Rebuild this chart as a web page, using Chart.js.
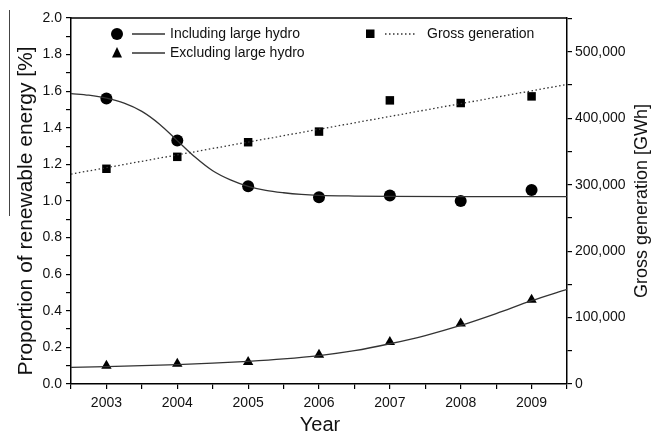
<!DOCTYPE html>
<html>
<head>
<meta charset="utf-8">
<script src="https://cdn.jsdelivr.net/npm/chart.js@4.4.1/dist/chart.umd.min.js"></script>
<style>
  body { margin: 0; background: #fff; }
  canvas { display: block; }
</style>
</head>
<body>
<canvas id="chart" width="652" height="433"></canvas>
<script>
// measured points
const years = [2003, 2004, 2005, 2006, 2007, 2008, 2009];
const includingHydro = [1.56, 1.33, 1.08, 1.02, 1.03, 1.00, 1.06];
const excludingHydro = [0.10, 0.11, 0.12, 0.16, 0.23, 0.33, 0.46];
const grossGeneration = [324000, 342000, 364000, 380000, 427000, 423000, 433000];

// fitted curves
const incFitYears = [2002.5, 2002.75, 2003, 2003.25, 2003.5, 2003.75, 2004, 2004.25, 2004.5, 2004.75, 2005, 2005.25, 2005.5, 2005.75, 2006, 2006.5, 2007, 2008, 2009.5];
const includingFit = [1.587, 1.578, 1.562, 1.535, 1.49, 1.42, 1.33, 1.24, 1.165, 1.115, 1.08, 1.058, 1.045, 1.036, 1.031, 1.027, 1.025, 1.024, 1.024];
const excFitYears = [2002.5, 2003, 2003.5, 2004, 2004.5, 2005, 2005.5, 2006, 2006.5, 2007, 2007.5, 2008, 2008.5, 2009, 2009.5];
const excludingFit = [0.091, 0.095, 0.100, 0.106, 0.114, 0.124, 0.137, 0.155, 0.182, 0.220, 0.265, 0.320, 0.385, 0.455, 0.517];
const grossFitYears = [2002.5, 2009.5];
const grossFit = [316000, 451000];

const xTicks = [2003, 2004, 2005, 2006, 2007, 2008, 2009];
const yTicks = [0.0, 0.2, 0.4, 0.6, 0.8, 1.0, 1.2, 1.4, 1.6, 1.8, 2.0];
const y2Ticks = [0, 100000, 200000, 300000, 400000, 500000];

const FONT = "'Liberation Sans', Arial, sans-serif";
const INK = '#111';

const toPoints = (xs, ys) => xs.map((x, i) => ({ x: x, y: ys[i] }));

function halfSteps(from, to, step) {
    const out = [];
    for (let v = from; v <= to + 1e-9; v += step) out.push({ value: Math.round(v * 1000) / 1000 });
    return out;
}

const fitLine = {
    showLine: true,
    pointRadius: 0,
    borderColor: '#333',
    borderWidth: 1.3,
    cubicInterpolationMode: 'monotone',
    fill: false
};

// box frame, axis titles and the legend
const extras = {
    id: 'extras',
    afterDraw(chart) {
        const ctx = chart.ctx;
        const a = chart.chartArea;
        ctx.save();
        ctx.strokeStyle = '#000';
        ctx.lineWidth = 1.5;
        ctx.beginPath();
        ctx.moveTo(a.left, a.top);
        ctx.lineTo(a.right, a.top);
        ctx.stroke();

        // stray scan line at far left
        ctx.strokeStyle = '#444';
        ctx.lineWidth = 1;
        ctx.beginPath();
        ctx.moveTo(9.5, 10);
        ctx.lineTo(9.5, 216);
        ctx.stroke();

        ctx.fillStyle = INK;
        ctx.textAlign = 'center';
        ctx.textBaseline = 'middle';
        ctx.font = '21px ' + FONT;
        ctx.save();
        ctx.translate(26, 211);
        ctx.rotate(-Math.PI / 2);
        ctx.fillText('Proportion of renewable energy [%]', 0, 0);
        ctx.restore();
        ctx.font = '18px ' + FONT;
        ctx.save();
        ctx.translate(642, 201);
        ctx.rotate(-Math.PI / 2);
        ctx.fillText('Gross generation [GWh]', 0, 0);
        ctx.restore();
        ctx.font = '20px ' + FONT;
        ctx.textBaseline = 'alphabetic';
        ctx.fillText('Year', 320, 431);

        // legend
        ctx.fillStyle = '#000';
        ctx.beginPath();
        ctx.arc(117, 34, 6, 0, Math.PI * 2);
        ctx.fill();
        ctx.beginPath();
        ctx.moveTo(117, 47);
        ctx.lineTo(122, 57.5);
        ctx.lineTo(112, 57.5);
        ctx.closePath();
        ctx.fill();
        ctx.fillRect(366, 29.5, 8.5, 8.5);

        ctx.strokeStyle = '#333';
        ctx.lineWidth = 1.3;
        ctx.beginPath();
        ctx.moveTo(132, 34);
        ctx.lineTo(165, 34);
        ctx.moveTo(132, 53);
        ctx.lineTo(165, 53);
        ctx.stroke();
        ctx.setLineDash([1.5, 2.5]);
        ctx.beginPath();
        ctx.moveTo(385, 34);
        ctx.lineTo(417, 34);
        ctx.stroke();
        ctx.setLineDash([]);

        ctx.fillStyle = INK;
        ctx.font = '14px ' + FONT;
        ctx.textAlign = 'left';
        ctx.textBaseline = 'middle';
        ctx.fillText('Including large hydro', 170, 34);
        ctx.fillText('Excluding large hydro', 170, 53);
        ctx.fillText('Gross generation', 427, 34);
        ctx.restore();
    }
};

const axisGrid = { display: true, drawOnChartArea: false, drawTicks: true, tickLength: 5, color: '#000', lineWidth: 1.2 };
const axisBorder = { display: true, color: '#000', width: 1.5 };

new Chart(document.getElementById('chart'), {
    type: 'scatter',
    data: {
        datasets: [
            Object.assign({ data: toPoints(incFitYears, includingFit), yAxisID: 'y' }, fitLine),
            Object.assign({ data: toPoints(excFitYears, excludingFit), yAxisID: 'y' }, fitLine),
            Object.assign({ data: toPoints(grossFitYears, grossFit), yAxisID: 'y2', borderDash: [1.5, 2.5] }, fitLine),
            {
                data: toPoints(years, includingHydro), yAxisID: 'y',
                pointStyle: 'circle', pointRadius: 6, backgroundColor: '#000', borderColor: '#000', borderWidth: 0
            },
            {
                data: toPoints(years, excludingHydro), yAxisID: 'y',
                pointStyle: 'triangle', pointRadius: 6, backgroundColor: '#000', borderColor: '#000', borderWidth: 0
            },
            {
                data: toPoints(years, grossGeneration), yAxisID: 'y2',
                pointStyle: 'rect', pointRadius: 6, backgroundColor: '#000', borderColor: '#000', borderWidth: 0
            }
        ]
    },
    options: {
        responsive: false,
        animation: false,
        layout: { padding: { top: 18, left: 0, right: 0, bottom: 0 } },
        plugins: { legend: { display: false }, tooltip: { enabled: false } },
        scales: {
            x: {
                type: 'linear', min: 2002.5, max: 2009.5,
                afterBuildTicks: (s) => { s.ticks = halfSteps(2002.5, 2009.5, 0.5); },
                afterFit: (s) => { s.height = 49; },
                grid: axisGrid, border: axisBorder,
                ticks: {
                    autoSkip: false, maxRotation: 0, padding: 6, color: INK, font: { family: FONT, size: 14 },
                    callback: (v) => (xTicks.includes(v) ? String(v) : '')
                }
            },
            y: {
                position: 'left', min: 0, max: 2,
                afterBuildTicks: (s) => { s.ticks = halfSteps(0, 2, 0.1); },
                afterFit: (s) => { s.width = 71; },
                grid: axisGrid, border: axisBorder,
                ticks: {
                    autoSkip: false, padding: 4, color: INK, font: { family: FONT, size: 14 },
                    callback: (v) => (yTicks.some((t) => Math.abs(t - v) < 1e-6) ? v.toFixed(1) : '')
                }
            },
            y2: {
                position: 'right', min: 0, max: 551000,
                afterBuildTicks: (s) => { s.ticks = halfSteps(0, 550000, 50000); },
                afterFit: (s) => { s.width = 85; },
                grid: axisGrid, border: axisBorder,
                ticks: {
                    autoSkip: false, padding: 3, color: INK, font: { family: FONT, size: 14 },
                    callback: (v) => (y2Ticks.includes(v) ? v.toLocaleString('en-US') : '')
                }
            }
        }
    },
    plugins: [extras]
});
</script>
</body>
</html>
